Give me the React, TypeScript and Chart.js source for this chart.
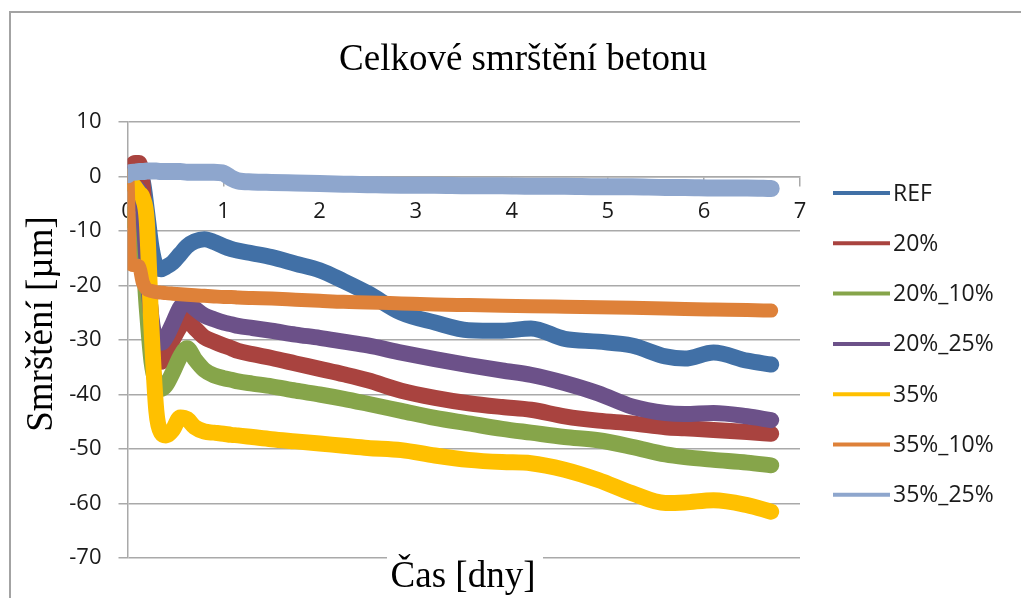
import React, { useEffect, useRef } from "react";
import { Chart, registerables } from "chart.js";

Chart.register(...registerables);

const W = 1021;
const H = 598;

const TITLE = "Celkové smrštění betonu";
const X_TITLE = "Čas [dny]";
const Y_TITLE = "Smrštění [µm]";

const SERIES_NAMES = ["REF", "20%", "20%_10%", "20%_25%", "35%", "35%_10%", "35%_25%"];
const COLORS = ["#4170A6", "#A9433F", "#86A54A", "#6C5189", "#FFC000", "#DE8139", "#8EA6CD"];

const X_MIN = 0;
const X_MAX = 7;
const X_STEP = 1;
const Y_MIN = -70;
const Y_MAX = 10;
const Y_STEP = 10;

const DAYS = [0, 0.03, 0.08, 0.12, 0.16, 0.2, 0.25, 0.3, 0.35, 0.4, 0.47, 0.55, 0.62, 0.7, 0.8, 0.9, 1.0, 1.08, 1.15, 1.3, 1.5, 1.75, 2.0, 2.25, 2.5, 2.85, 3.2, 3.55, 3.9, 4.2, 4.55, 4.9, 5.25, 5.6, 5.8, 6.1, 6.45, 6.7];

const REF = [0, 0.5, 0.5, 0, -1, -6, -13, -16.5, -17, -16.6, -15.8, -14.2, -12.8, -11.9, -11.5, -12, -12.8, -13.3, -13.6, -14.1, -14.8, -16, -17.2, -19.2, -21.4, -25, -26.8, -28.2, -28.3, -27.9, -29.8, -30.3, -31, -33, -33.4, -32.3, -33.8, -34.5];
const S20 = [0, 1.5, 2.5, 2.5, -2, -14, -27, -33, -34, -32.5, -30, -27.5, -26.3, -27.8, -29.5, -30.3, -31, -31.5, -32, -32.6, -33.3, -34.3, -35.3, -36.3, -37.4, -39.3, -40.6, -41.6, -42.3, -42.8, -44, -44.8, -45.3, -46, -46.2, -46.5, -46.9, -47.2];
const S20_10 = [-7, -8, -8.5, -9, -14, -24, -34, -38, -39, -38.3, -36, -33, -31.5, -33.5, -35.5, -36.5, -37, -37.3, -37.6, -38, -38.5, -39.3, -40, -40.8, -41.7, -43, -44.3, -45.3, -46.3, -47, -47.8, -48.4, -49.6, -51, -51.5, -52, -52.5, -53];
const S20_25 = [0, -1, -2, -2.5, -6, -16, -26, -30, -30.5, -29.5, -27, -24, -23, -24.2, -25.5, -26.2, -26.8, -27.1, -27.4, -27.8, -28.3, -29, -29.6, -30.3, -31, -32.3, -33.5, -34.6, -35.6, -36.4, -37.9, -39.8, -42.2, -43.4, -43.6, -43.4, -44, -44.7];
const S35 = [0, -1, -2, -3, -4, -8, -28, -43, -47, -47.5, -46.5, -44.2, -44.5, -46, -46.8, -47, -47.2, -47.4, -47.5, -47.8, -48.2, -48.6, -49, -49.4, -49.8, -50.2, -51.2, -52, -52.4, -52.6, -53.8, -55.7, -58.1, -59.9, -59.8, -59.4, -60.3, -61.5];
const S35_10 = [0, -16, -16.3, -16.5, -19.5, -20.7, -21, -21.2, -21.3, -21.4, -21.5, -21.6, -21.7, -21.8, -21.9, -22, -22.1, -22.1, -22.2, -22.3, -22.4, -22.6, -22.8, -23, -23.1, -23.3, -23.5, -23.6, -23.7, -23.8, -23.9, -24, -24.1, -24.2, -24.3, -24.4, -24.5, -24.6];
const S35_25 = [0.3, 0.7, 0.8, 0.9, 0.9, 1, 1, 1, 0.9, 0.9, 0.9, 0.9, 0.8, 0.8, 0.8, 0.8, 0.6, -0.3, -0.8, -1.0, -1.1, -1.2, -1.3, -1.4, -1.5, -1.6, -1.6, -1.7, -1.7, -1.8, -1.8, -1.9, -1.9, -2.0, -2.0, -2.1, -2.1, -2.2];

const SERIES_VALUES = [REF, S20, S20_10, S20_25, S35, S35_10, S35_25];
const LINE_WIDTHS = [16, 16, 16, 16, 16, 14, 17];

const SERIF = '"Liberation Serif", "Times New Roman", serif';
const SANS = '"Open Sans", "Noto Sans", sans-serif';
const GRID = "#a9a9a9";
const TEXT = "#1a1a1a";

const decor = {
  id: "decor",
  beforeDraw(chart: any) {
    const c = chart.ctx as CanvasRenderingContext2D;
    c.save();
    c.fillStyle = "#ffffff";
    c.fillRect(0, 0, W, H);
    c.strokeStyle = "#a3a3a3";
    c.lineWidth = 2;
    c.strokeRect(10, 12, W + 40, H + 40);
    c.restore();
  },
  afterDraw(chart: any) {
    const c = chart.ctx as CanvasRenderingContext2D;
    c.save();
    // main title
    c.fillStyle = "#000";
    c.font = `37px ${SERIF}`;
    c.textAlign = "center";
    c.textBaseline = "alphabetic";
    c.fillText(TITLE, 523, 70);
    // x axis title with white backing
    c.fillStyle = "#fff";
    c.fillRect(387, 551, 156, 47);
    c.fillStyle = "#000";
    c.fillText(X_TITLE, 463, 587);
    // y axis title
    c.save();
    c.translate(52, 324);
    c.rotate(-Math.PI / 2);
    c.fillText(Y_TITLE, 0, 0);
    c.restore();
    // legend
    const ds = chart.data.datasets;
    c.font = `23px ${SANS}`;
    c.textAlign = "left";
    c.textBaseline = "middle";
    for (let i = 0; i < ds.length; i++) {
      const y = 193 + i * 50.3;
      c.strokeStyle = ds[i].borderColor;
      c.lineWidth = 4;
      c.lineCap = "butt";
      c.beginPath();
      c.moveTo(833, y);
      c.lineTo(890, y);
      c.stroke();
      c.fillStyle = TEXT;
      c.fillText(ds[i].label, 893, y + 1);
    }
    c.restore();
  },
};

export default function App() {
  const ref = useRef<HTMLCanvasElement>(null);

  useEffect(() => {
    document.body.style.margin = "0";
    const canvas = ref.current;
    if (!canvas) return;
    const chart = new Chart(canvas, {
      type: "line",
      data: {
        datasets: SERIES_NAMES.map((name, i) => ({
          label: name,
          data: DAYS.map((d, j) => ({ x: d, y: SERIES_VALUES[i][j] })),
          borderColor: COLORS[i],
          backgroundColor: COLORS[i],
          borderWidth: LINE_WIDTHS[i],
          pointRadius: 0,
          fill: false,
          cubicInterpolationMode: "monotone" as const,
          borderCapStyle: "round" as const,
          borderJoinStyle: "round" as const,
          order: SERIES_NAMES.length - i,
        })),
      },
      options: {
        responsive: false,
        animation: false,
        layout: { padding: { top: 122, right: 221, bottom: 40, left: 0 } },
        plugins: {
          legend: { display: false },
          title: { display: false },
          tooltip: { enabled: false },
        },
        scales: {
          x: {
            type: "linear",
            min: X_MIN,
            max: X_MAX,
            position: { y: 0 } as any,
            ticks: {
              stepSize: X_STEP,
              padding: 13,
              maxRotation: 0,
              color: TEXT,
              font: { family: SANS, size: 22 },
            },
            grid: {
              drawOnChartArea: false,
              drawTicks: true,
              tickLength: 9,
              color: GRID,
              lineWidth: 1.5,
            },
            border: { display: true, color: GRID, width: 1.5 },
          },
          y: {
            type: "linear",
            min: Y_MIN,
            max: Y_MAX,
            ticks: {
              stepSize: Y_STEP,
              padding: 17,
              color: TEXT,
              font: { family: SANS, size: 22 },
            },
            grid: {
              color: GRID,
              lineWidth: 1.5,
              tickLength: 9,
            },
            border: { display: true, color: GRID, width: 1.5 },
            afterFit: (scale: any) => {
              scale.width = 127.5;
            },
          },
        },
      },
      plugins: [decor],
    });
    return () => chart.destroy();
  }, []);

  return (
    <canvas
      ref={ref}
      width={W}
      height={H}
      style={{ position: "absolute", left: 0, top: 0, display: "block" }}
    />
  );
}
